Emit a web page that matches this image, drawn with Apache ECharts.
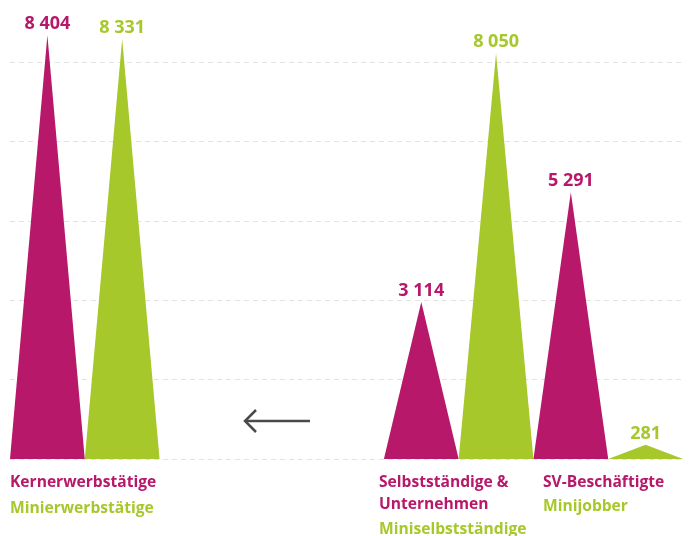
<!DOCTYPE html>
<html>
<head>
<meta charset="utf-8">
<script src="https://cdn.jsdelivr.net/npm/echarts@6/dist/echarts.min.js"></script>
<style>
  html, body { margin: 0; padding: 0; background: #fff; }
  #chart { width: 691px; height: 536px; }
</style>
</head>
<body>
<div id="chart"></div>
<script>
// slots on the x axis, three empty ones make room for the arrow
const categories = ['Kernerwerbstätige', 'Minierwerbstätige', 'gap1', 'gap2', 'gap3',
  'Selbstständige & Unternehmen', 'Miniselbstständige', 'SV-Beschäftigte', 'Minijobber'];
const magentaValues = [8404, '-', '-', '-', '-', 3114, '-', 5291, '-'];
const greenValues = ['-', 8331, '-', '-', '-', '-', 8050, '-', 281];

const MAGENTA = '#b7186a';
const GREEN = '#a6c82b';
const FONT = '"Open Sans", "Noto Sans", sans-serif';

function fmt(v) {
  return String(v).replace(/\B(?=(\d{3})+(?!\d))/g, ' ');
}

function triSeries(name, data, color) {
  return {
    name: name,
    type: 'pictorialBar',
    symbol: 'triangle',
    barCategoryGap: '0%',
    data: data,
    itemStyle: { color: color },
    label: {
      show: true,
      position: 'top',
      distance: 2,
      color: color,
      fontFamily: FONT,
      fontWeight: 'bold',
      fontSize: 18,
      formatter: p => fmt(p.value)
    }
  };
}

function caption(text, x, y, color) {
  return {
    type: 'text',
    x: x,
    y: y,
    style: {
      text: text,
      fill: color,
      font: 'bold 15.6px ' + FONT,
      textAlign: 'left',
      textVerticalAlign: 'middle'
    }
  };
}

let chart = echarts.init(document.getElementById('chart'));
chart.setOption({
  animation: false,
  grid: { left: 10, right: 8, top: 0, bottom: 77 },
  xAxis: {
    type: 'category',
    data: categories,
    axisLine: { show: false },
    axisTick: { show: false },
    axisLabel: { show: false }
  },
  yAxis: {
    type: 'value',
    min: 0,
    max: 9105,
    interval: 1575,
    axisLine: { show: false },
    axisTick: { show: false },
    axisLabel: { show: false },
    splitLine: { showMaxLine: false, lineStyle: { color: '#e2e2e2', type: [5, 4], width: 1 } }
  },
  series: [
    triSeries('magenta', magentaValues, MAGENTA),
    triSeries('green', greenValues, GREEN)
  ],
  graphic: [
    caption('Kernerwerbstätige', 10, 483, MAGENTA),
    caption('Minierwerbstätige', 10, 509, GREEN),
    caption('Selbstständige &', 379, 483, MAGENTA),
    caption('Unternehmen', 379, 505, MAGENTA),
    caption('Miniselbstständige', 379, 530, GREEN),
    caption('SV-Beschäftigte', 543, 483, MAGENTA),
    caption('Minijobber', 543, 507, GREEN),
    {
      type: 'line',
      shape: { x1: 245, y1: 421, x2: 310, y2: 421 },
      style: { stroke: '#4a4a4a', lineWidth: 2.5 }
    },
    {
      type: 'polyline',
      shape: { points: [[256, 410], [245, 421], [256, 432]] },
      style: { stroke: '#4a4a4a', lineWidth: 2.5, fill: null }
    }
  ]
});
</script>
</body>
</html>
